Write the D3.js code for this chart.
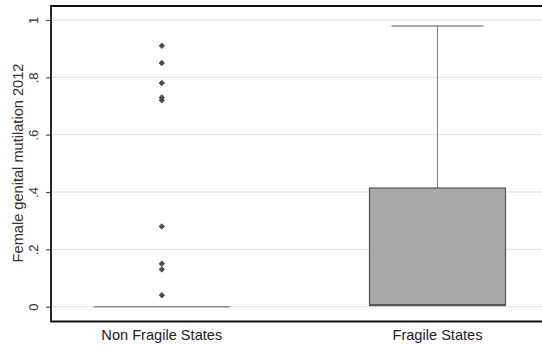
<!DOCTYPE html>
<html><head><meta charset="utf-8">
<script src="https://cdn.jsdelivr.net/npm/d3@7"></script>
<style>body{margin:0;background:#fff}svg{display:block}text{font-family:"Liberation Sans",Arial,sans-serif}</style>
</head><body>
<svg id="c" width="542" height="345"></svg>
<script>
const categories = ["Non Fragile States", "Fragile States"];
const whiskerLow = [0, 0];
const q1 = [0, 0.004];
const median = [0, 0.006];
const q3 = [0, 0.414];
const whiskerHigh = [0, 0.979];
const outliersNonFragile = [0.91, 0.85, 0.78, 0.73, 0.72, 0.28, 0.15, 0.13, 0.04];
const outliersFragile = [];
const yTicks = [0, 0.2, 0.4, 0.6, 0.8, 1];
const yTickLabels = ["0", ".2", ".4", ".6", ".8", "1"];
const yTitle = "Female genital mutilation 2012";

const outliers = [outliersNonFragile, outliersFragile];
const svg = d3.select("#c");
const mLeft = 51, mTop = 6, mBottom = 321.5, mRight = 560;
const y = d3.scaleLinear().domain([0, 1]).range([306.7, 20]);
const x = d3.scalePoint().domain(categories).range([161.8, 437.5]);
const boxW = 136;

// gridlines
svg.append("g").selectAll("line").data(yTicks).join("line")
  .attr("x1", mLeft).attr("x2", 542).attr("y1", d => y(d)).attr("y2", d => y(d))
  .attr("stroke", "#e6e6e6").attr("stroke-width", 1.3);

// y axis
const yAxis = d3.axisLeft(y).tickValues(yTicks).tickFormat((d, i) => yTickLabels[i]).tickSize(5).tickSizeOuter(0);
const gy = svg.append("g").attr("transform", `translate(${mLeft},0)`).call(yAxis);
gy.select(".domain").remove();
gy.selectAll(".tick line").attr("stroke", "#555").attr("stroke-width", 1.2);
gy.selectAll(".tick text").attr("x", null).attr("dy", 0)
  .attr("text-anchor", "middle").attr("font-size", 13).attr("fill", "#333")
  .attr("transform", "translate(-13.5,0) rotate(-90)");

// frame
svg.append("path").attr("d", `M${mRight},${mTop}H${mLeft}V${mBottom}H${mRight}`)
  .attr("fill", "none").attr("stroke", "#111").attr("stroke-width", 1.8);

// y title
svg.append("text").attr("transform", "translate(22.5,163) rotate(-90)")
  .attr("text-anchor", "middle").attr("font-size", 14.6).attr("fill", "#3a2f2f").text(yTitle);

// x labels
svg.append("g").selectAll("text").data(categories).join("text")
  .attr("x", d => x(d)).attr("y", 340).attr("text-anchor", "middle")
  .attr("font-size", 14.6).attr("fill", "#222").text(d => d);

// boxes
categories.forEach((c, i) => {
  const cx = x(c);
  const g = svg.append("g");
  if (whiskerHigh[i] > q3[i]) {
    g.append("line").attr("x1", cx).attr("x2", cx).attr("y1", y(q3[i])).attr("y2", y(whiskerHigh[i]))
      .attr("stroke", "#8c8c8c").attr("stroke-width", 1.2);
    g.append("line").attr("x1", cx - 46).attr("x2", cx + 46).attr("y1", y(whiskerHigh[i])).attr("y2", y(whiskerHigh[i]))
      .attr("stroke", "#555").attr("stroke-width", 1.2);
  }
  if (q3[i] > q1[i]) {
    g.append("rect").attr("x", cx - boxW / 2).attr("width", boxW)
      .attr("y", y(q3[i])).attr("height", y(q1[i]) - y(q3[i]))
      .attr("fill", "#a8a8a8").attr("stroke", "#555").attr("stroke-width", 1.2);
    g.append("line").attr("x1", cx - boxW / 2).attr("x2", cx + boxW / 2).attr("y1", y(median[i])).attr("y2", y(median[i]))
      .attr("stroke", "#555").attr("stroke-width", 2);
  } else {
    g.append("line").attr("x1", cx - boxW / 2).attr("x2", cx + boxW / 2).attr("y1", y(median[i])).attr("y2", y(median[i]))
      .attr("stroke", "#8c8c8c").attr("stroke-width", 1.6);
  }
  g.selectAll("path.o").data(outliers[i]).join("path").attr("class", "o")
    .attr("d", d3.symbol(d3.symbolSquare, 15))
    .attr("transform", d => `translate(${cx},${y(d)}) rotate(45)`)
    .attr("fill", "#4a4a4a").attr("stroke", "#4a4a4a").attr("stroke-width", 0.8).attr("stroke-linejoin", "round");
});
</script>
</body></html>
